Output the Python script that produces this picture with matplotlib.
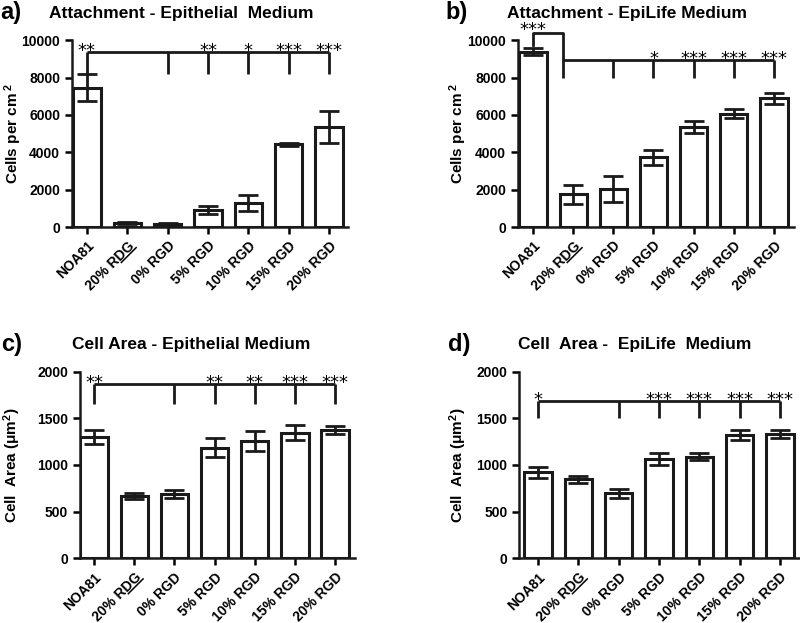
import numpy as np
import matplotlib
matplotlib.use("Agg")
import matplotlib.pyplot as plt
from matplotlib.lines import Line2D

plt.rcParams['font.family'] = ['Liberation Sans', 'DejaVu Sans']
plt.rcParams['font.weight'] = 'bold'
plt.rcParams['axes.labelweight'] = 'bold'
plt.rcParams['axes.titleweight'] = 'bold'
plt.rcParams['mathtext.fontset'] = 'custom'
plt.rcParams['mathtext.rm'] = 'Liberation Sans:bold'
plt.rcParams['mathtext.bf'] = 'Liberation Sans:bold'
plt.rcParams['mathtext.it'] = 'Liberation Sans:bold'

# categorias (igual en los 4 paneles)
grupos = ['NOA81', '20% RDG', '0% RGD', '5% RGD', '10% RGD', '15% RGD', '20% RGD']

# a) adhesion - Epithelial medium
adh_epi = [7450, 200, 150, 900, 1300, 4430, 5350]
adh_epi_err = [720, 50, 80, 200, 420, 80, 850]
# b) adhesion - EpiLife medium
adh_life = [9380, 1750, 2050, 3720, 5350, 6060, 6880]
adh_life_err = [200, 500, 700, 380, 300, 250, 300]
# c) area - Epithelial medium
area_epi = [1300, 670, 690, 1185, 1255, 1345, 1375]
area_epi_err = [70, 30, 45, 100, 110, 80, 45]
# d) area - EpiLife medium
area_life = [920, 845, 695, 1065, 1090, 1325, 1335]
area_life_err = [60, 35, 45, 60, 35, 55, 45]

# significancia frente a NOA81
est_a = {0: '**', 3: '**', 4: '*', 5: '***', 6: '***'}
est_b = {3: '*', 4: '***', 5: '***', 6: '***'}
est_c = {0: '**', 3: '**', 4: '**', 5: '***', 6: '***'}
est_d = {0: '*', 3: '***', 4: '***', 5: '***', 6: '***'}

fig = plt.figure(figsize=(8, 6.23), dpi=100)
W, H = 800, 623


def panel(pos, vals, errs, ymax, step, xl, titulo, xt, letra, pos_letra, ylabel, xlab):
    ax = fig.add_axes(pos)
    x = np.arange(len(vals))
    ax.bar(x, vals, width=0.68, color='white', edgecolor='#1a1a1a', linewidth=2.2, zorder=2)
    ax.errorbar(x, vals, yerr=errs, fmt='none', ecolor='#1a1a1a', elinewidth=2.0,
                capsize=7, capthick=2.0, zorder=3)
    ax.set_xlim(xl)
    ax.set_ylim(0, ymax)
    ax.set_yticks(np.arange(0, ymax + 1, step))
    ax.set_xticks(x)
    ax.set_xticklabels(grupos, rotation=45, ha='right', rotation_mode='anchor', fontsize=10)
    ax.tick_params(axis='y', labelsize=10, width=1.8, length=5)
    ax.tick_params(axis='x', width=1.8, length=5)
    for s in ['top', 'right']:
        ax.spines[s].set_visible(False)
    for s in ['left', 'bottom']:
        ax.spines[s].set_linewidth(1.8)
        ax.spines[s].set_color('#1a1a1a')
    ax.set_ylabel(ylabel, fontsize=11)
    ax.yaxis.set_label_coords(xlab, 0.5)
    ax.text(xt, 1.145, titulo, transform=ax.transAxes, fontsize=12.5, ha='center', va='center')
    fig.text(pos_letra[0] / W, 1 - pos_letra[1] / H, letra, fontsize=17, ha='center', va='center')
    return ax


def corchete(ax, y_lin, y_bot, estrellas, ticks=(0, 2, 3, 4, 5, 6)):
    kw = dict(color='#1a1a1a', lw=2.0, clip_on=False, solid_capstyle='butt')
    ax.plot([ticks[0], ticks[-1]], [y_lin, y_lin], **kw)
    for t in ticks:
        ax.plot([t, t], [y_lin, y_bot], **kw)
    for k, s in estrellas.items():
        ax.annotate(s, (k, y_lin), xytext=(0, -3), textcoords='offset points',
                    ha='center', va='baseline', fontsize=13, fontweight='normal',
                    family='DejaVu Sans', annotation_clip=False)


ax_a = panel([0.09, 0.6356, 0.345, 0.30], adh_epi, adh_epi_err, 10000, 2000,
             (-0.37, 6.47), 'Attachment - Epithelial  Medium', 0.395, 'a)', (11, 12),
             r'Cells per cm$^{\ 2}$', -0.174)
corchete(ax_a, 9370, 8200, est_a)

ax_b = panel([0.6475, 0.6356, 0.345, 0.30], adh_life, adh_life_err, 10000, 2000,
             (-0.375, 6.5), 'Attachment - EpiLife Medium', 0.396, 'b)', (457, 12),
             r'Cells per cm$^{\ 2}$', -0.178)
kw = dict(color='#1a1a1a', lw=2.0, clip_on=False)
ax_b.plot([0, 0, 0.75, 0.75], [9750, 10390, 10390, 8930], **kw)
ax_b.annotate('***', (0, 10390), xytext=(0, -1.3), textcoords='offset points', ha='center',
              va='baseline', fontsize=13, fontweight='normal', family='DejaVu Sans',
              annotation_clip=False)
corchete(ax_b, 8930, 7950, est_b, ticks=(0.75, 2, 3, 4, 5, 6))

ax_c = panel([0.10, 0.1039, 0.344, 0.2995], area_epi, area_epi_err, 2000, 500,
             (-0.35, 6.5), 'Cell Area - Epithelial Medium', 0.404, 'c)', (12, 345),
             'Cell  Area (μm$^{2}$)', -0.207)
corchete(ax_c, 1868, 1650, est_c)

ax_d = panel([0.649, 0.1039, 0.351, 0.2995], area_life, area_life_err, 2000, 500,
             (-0.47, 6.5), 'Cell  Area -  EpiLife  Medium', 0.413, 'd)', (459, 345),
             'Cell  Area (μm$^{2}$)', -0.177)
corchete(ax_d, 1689, 1500, est_d)

# subrayado de "DG" en la etiqueta "20% RDG"
fig.canvas.draw()
rend = fig.canvas.get_renderer()
c = s = np.sqrt(0.5)
for ax in [ax_a, ax_b, ax_c, ax_d]:
    lab = ax.get_xticklabels()[1]
    x0, y0 = lab.get_transform().transform(lab.get_position())
    prop = lab.get_fontproperties()
    w_full, h, d = rend.get_text_width_height_descent('20% RDG', prop, ismath=False)
    w_pre, _, _ = rend.get_text_width_height_descent('20% R', prop, ismath=False)
    _, lh, ld = rend.get_text_width_height_descent('lp', prop, ismath=False)
    yb = -(max(h, lh) - max(d, ld)) - 1.5
    pts = np.array([[-w_full + w_pre, yb], [0, yb]])
    rx = x0 + pts[:, 0] * c - pts[:, 1] * s
    ry = y0 + pts[:, 0] * s + pts[:, 1] * c
    fig.add_artist(Line2D(rx / W, ry / H, transform=fig.transFigure, color='black', lw=1.1))

fig.savefig('out.png', dpi=100)
